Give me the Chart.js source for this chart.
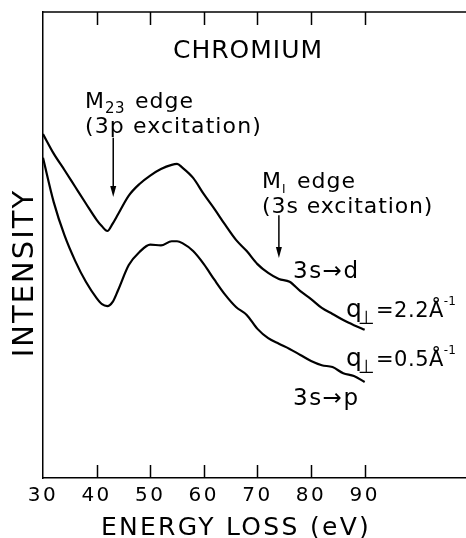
<!DOCTYPE html>
<html>
<head>
<meta charset="utf-8">
<script src="https://cdn.jsdelivr.net/npm/chart.js@4.4.1/dist/chart.umd.min.js"></script>
<style>
  html, body { margin: 0; padding: 0; background: #fff; }
  #wrap { width: 466px; height: 538px; }
</style>
</head>
<body>
<div id="wrap"><canvas id="c" width="466" height="538"></canvas></div>
<script>
// Energy loss (eV) sample positions
const energy = [30,32,34,36,38,40,41,42,43,44,46,48,50,52,54,55,56,58,60,62,64,66,68,70,72,74,76,78,80,82,84,86,88,90];
// Intensity (arbitrary units) for q_perp = 2.2 1/A
const intensityQ22 = [73.8,69.6,66.1,62.5,58.9,55.4,54.0,53.0,54.6,56.6,60.6,63.1,64.9,66.3,67.2,67.4,66.6,64.4,60.9,57.7,54.3,51.1,48.7,45.9,44.0,42.7,42.1,40.1,38.4,36.5,35.2,33.9,32.8,31.8];
// Intensity (arbitrary units) for q_perp = 0.5 1/A
const intensityQ05 = [68.7,59.2,52.1,46.6,42.1,38.6,37.3,36.9,37.8,40.3,45.7,48.5,50.1,49.9,50.8,50.8,50.4,48.7,45.9,42.5,39.3,36.7,35.0,32.0,30.0,28.8,27.7,26.4,25.1,24.2,23.8,22.5,21.9,20.6];
// x-axis tick labels
const xTicks = [30,40,50,60,70,80,90];
// Edge markers (eV)
const edgeM23 = 43.1;
const edgeM1 = 74.0;

const FONT = '"DejaVu Sans", sans-serif';

function txt(ctx, s, x, y, size, sp, align) {
  ctx.font = size + 'px ' + FONT;
  ctx.letterSpacing = (sp || 0) + 'px';
  ctx.textAlign = align || 'left';
  ctx.textBaseline = 'alphabetic';
  ctx.fillText(s, x, y);
  return ctx.measureText(s).width;
}

function arrow(ctx, x, y0, y1) {
  ctx.beginPath();
  ctx.moveTo(x, y0);
  ctx.lineTo(x, y1 - 8);
  ctx.lineWidth = 1.5;
  ctx.stroke();
  ctx.beginPath();
  ctx.moveTo(x - 3, y1 - 11);
  ctx.lineTo(x + 3, y1 - 11);
  ctx.lineTo(x, y1);
  ctx.closePath();
  ctx.fill();
}

const spacing = {
  id: 'spacing',
  beforeDraw(chart) { chart.ctx.letterSpacing = '2.5px'; }
};

const annot = {
  id: 'annot',
  afterDraw(chart) {
    const { ctx, chartArea: ca } = chart;
    const x = chart.scales.x, y = chart.scales.y;
    ctx.save();
    ctx.strokeStyle = '#000';
    ctx.fillStyle = '#000';
    // top frame line
    ctx.lineWidth = 1.5;
    ctx.beginPath();
    ctx.moveTo(ca.left, ca.top);
    ctx.lineTo(ca.right, ca.top);
    ctx.stroke();
    // inward ticks top & bottom
    xTicks.slice(1).forEach(v => {
      const px = Math.round(x.getPixelForValue(v)) + 0.5;
      ctx.beginPath();
      ctx.moveTo(px, ca.bottom); ctx.lineTo(px, ca.bottom - 13);
      ctx.moveTo(px, ca.top); ctx.lineTo(px, ca.top + 13);
      ctx.stroke();
    });
    // edge arrows
    arrow(ctx, x.getPixelForValue(edgeM23), y.getPixelForValue(73.0), y.getPixelForValue(60.3));
    arrow(ctx, x.getPixelForValue(edgeM1), y.getPixelForValue(56.4), y.getPixelForValue(47.2));

    // texts
    txt(ctx, 'CHROMIUM', 248, 58, 25, 1, 'center');

    let w = txt(ctx, 'M', 85, 108, 22, 1);
    let w2 = txt(ctx, '23', 85 + w, 113, 15, 0.5);
    txt(ctx, 'edge', 85 + w + w2 + 10, 108, 22, 1);
    txt(ctx, '(3p excitation)', 85, 133, 22, 1.1);

    w = txt(ctx, 'M', 262, 188, 22, 1);
    txt(ctx, 'I', 262 + w, 193, 12, 0);
    txt(ctx, 'edge', 297, 188, 22, 1);
    txt(ctx, '(3s excitation)', 262, 213, 22, 0.9);

    txt(ctx, '3s\u2192d', 293, 278, 23, 1.5);
    txt(ctx, '3s\u2192p', 293, 405, 23, 1.5);

    // q labels
    [[317, '=2.2\u00C5'], [366, '=0.5\u00C5']].forEach(([by, s]) => {
      txt(ctx, 'q', 346, by, 25, 0);
      txt(ctx, '\u22A5', 358, by + 7, 19, 0);
      let sw = txt(ctx, s, 376, by, 21, 0.5);
      txt(ctx, '-1', 376 + sw, by - 12, 12, 0);
    });

    // axis titles
    txt(ctx, 'ENERGY LOSS (eV)', 236, 535, 25, 2.3, 'center');
    ctx.save();
    ctx.translate(33, 273);
    ctx.rotate(-Math.PI / 2);
    txt(ctx, 'INTENSITY', 0, 0, 29, 2, 'center');
    ctx.restore();

    ctx.restore();
  }
};

const mkPts = arr => energy.map((e, i) => ({ x: e, y: arr[i] }));

new Chart(document.getElementById('c'), {
  type: 'line',
  data: {
    datasets: [
      { label: 'q\u22A5 = 2.2 \u00C5\u207B\u00B9', data: mkPts(intensityQ22), borderColor: '#000', borderWidth: 2.2, pointRadius: 0, cubicInterpolationMode: 'monotone', fill: false },
      { label: 'q\u22A5 = 0.5 \u00C5\u207B\u00B9', data: mkPts(intensityQ05), borderColor: '#000', borderWidth: 2.2, pointRadius: 0, cubicInterpolationMode: 'monotone', fill: false }
    ]
  },
  options: {
    responsive: false,
    animation: false,
    devicePixelRatio: 1,
    layout: { padding: { top: 12, right: 0, left: 0, bottom: 0 } },
    plugins: { legend: { display: false }, tooltip: { enabled: false }, title: { display: false } },
    scales: {
      x: {
        type: 'linear', min: 30, max: 108.9,
        afterBuildTicks: s => { s.ticks = xTicks.map(v => ({ value: v })); },
        afterFit: s => { s.height = 60; },
        grid: { display: false, drawTicks: false },
        border: { display: true, color: '#000', width: 1.5 },
        ticks: { color: '#000', padding: 6, maxRotation: 0, autoSkip: false, font: { family: 'DejaVu Sans', size: 20 } }
      },
      y: {
        min: 0, max: 100,
        afterFit: s => { s.width = 43; },
        grid: { display: false, drawTicks: false },
        border: { display: true, color: '#000', width: 1.5 },
        ticks: { display: false }
      }
    }
  },
  plugins: [spacing, annot]
});
</script>
</body>
</html>
